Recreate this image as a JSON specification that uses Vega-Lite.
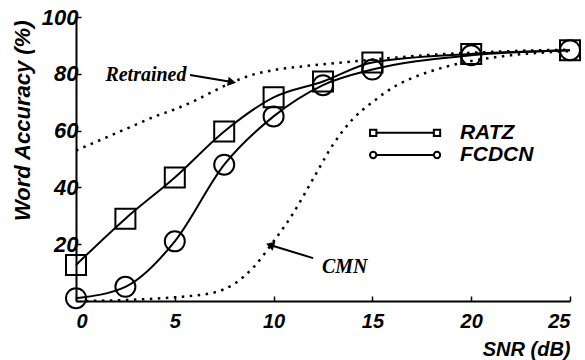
{
  "$schema": "https://vega.github.io/schema/vega-lite/v6.json",
  "width": 494,
  "height": 284,
  "autosize": {"type": "none"},
  "padding": {"left": 76, "top": 17, "right": 15, "bottom": 59},
  "background": "white",
  "config": {
    "view": {"stroke": null},
    "axis": {
      "grid": false,
      "domainColor": "black",
      "domainWidth": 2,
      "tickColor": "black",
      "tickWidth": 1.5,
      "tickSize": -5,
      "labelFont": "Liberation Sans",
      "labelFontWeight": "bold",
      "labelFontStyle": "italic",
      "labelFontSize": 20,
      "labelColor": "black",
      "titleFont": "Liberation Sans",
      "titleFontWeight": "bold",
      "titleFontStyle": "italic",
      "titleFontSize": 20,
      "titleColor": "black"
    }
  },
  "datasets": {
    "curves": [
      {"s": "RATZ", "x": 0, "y": 12.7},
      {"s": "RATZ", "x": 2.5, "y": 29},
      {"s": "RATZ", "x": 5, "y": 43.5},
      {"s": "RATZ", "x": 7.5, "y": 59.7},
      {"s": "RATZ", "x": 10, "y": 71.7},
      {"s": "RATZ", "x": 12.5, "y": 77.3},
      {"s": "RATZ", "x": 15, "y": 84},
      {"s": "RATZ", "x": 20, "y": 87},
      {"s": "RATZ", "x": 25, "y": 88.3},
      {"s": "FCDCN", "x": 0, "y": 1},
      {"s": "FCDCN", "x": 2.5, "y": 5},
      {"s": "FCDCN", "x": 5, "y": 21},
      {"s": "FCDCN", "x": 7.5, "y": 48},
      {"s": "FCDCN", "x": 10, "y": 65},
      {"s": "FCDCN", "x": 12.5, "y": 76},
      {"s": "FCDCN", "x": 15, "y": 81.5},
      {"s": "FCDCN", "x": 20, "y": 86.5},
      {"s": "FCDCN", "x": 25, "y": 88.3},
      {"s": "Retrained", "x": 0, "y": 53},
      {"s": "Retrained", "x": 1, "y": 56},
      {"s": "Retrained", "x": 2, "y": 59},
      {"s": "Retrained", "x": 3, "y": 62},
      {"s": "Retrained", "x": 4, "y": 65},
      {"s": "Retrained", "x": 5, "y": 67.5},
      {"s": "Retrained", "x": 6, "y": 70.5},
      {"s": "Retrained", "x": 7, "y": 74},
      {"s": "Retrained", "x": 8, "y": 77.3},
      {"s": "Retrained", "x": 9, "y": 79.8},
      {"s": "Retrained", "x": 10, "y": 81.3},
      {"s": "Retrained", "x": 12, "y": 83},
      {"s": "Retrained", "x": 14, "y": 84.3},
      {"s": "Retrained", "x": 16, "y": 85.6},
      {"s": "Retrained", "x": 18, "y": 86.7},
      {"s": "Retrained", "x": 20, "y": 87.4},
      {"s": "Retrained", "x": 22, "y": 88},
      {"s": "Retrained", "x": 25, "y": 88.5},
      {"s": "CMN", "x": 0.5, "y": 0},
      {"s": "CMN", "x": 3, "y": 0.5},
      {"s": "CMN", "x": 5, "y": 1.3},
      {"s": "CMN", "x": 7, "y": 3},
      {"s": "CMN", "x": 8, "y": 6},
      {"s": "CMN", "x": 9, "y": 12},
      {"s": "CMN", "x": 10, "y": 21},
      {"s": "CMN", "x": 11, "y": 31},
      {"s": "CMN", "x": 12, "y": 43},
      {"s": "CMN", "x": 13, "y": 55},
      {"s": "CMN", "x": 14, "y": 64},
      {"s": "CMN", "x": 15, "y": 70},
      {"s": "CMN", "x": 16, "y": 75},
      {"s": "CMN", "x": 17, "y": 78.5},
      {"s": "CMN", "x": 18, "y": 81},
      {"s": "CMN", "x": 19, "y": 83},
      {"s": "CMN", "x": 20, "y": 84.5},
      {"s": "CMN", "x": 22, "y": 86.5},
      {"s": "CMN", "x": 25, "y": 88}
    ],
    "legend": [
      {"s": "RATZ", "x": 15.04, "y": 59.2},
      {"s": "RATZ", "x": 18.27, "y": 59.2},
      {"s": "FCDCN", "x": 15.04, "y": 51.4},
      {"s": "FCDCN", "x": 18.27, "y": 51.4}
    ],
    "legendText": [
      {"label": "RATZ", "x": 19.43, "y": 59.2},
      {"label": "FCDCN", "x": 19.43, "y": 51.4}
    ],
    "notes": [
      {"label": "Retrained", "x": 3.54, "y": 79.6},
      {"label": "CMN", "x": 13.6, "y": 12.0}
    ],
    "arrows": [
      {"name": "Retrained", "x": 5.77, "y": 79.6, "x2": 7.89, "y2": 77.1},
      {"name": "CMN", "x": 12.0, "y": 15.1, "x2": 9.82, "y2": 19.7}
    ]
  },
  "layer": [
    {
      "data": {"name": "curves"},
      "transform": [{"filter": "datum.s == 'Retrained' || datum.s == 'CMN'"}],
      "mark": {"type": "line", "interpolate": "monotone", "color": "black", "strokeWidth": 2.5, "strokeDash": [2.5, 5.5]},
      "encoding": {
        "x": {"field": "x", "type": "quantitative", "scale": {"domain": [0, 25], "nice": false},
          "axis": {"values": [0, 5, 10, 15, 20, 25], "title": "SNR (dB)", "labelPadding": 15, "titleX": 494, "titleY": 54, "titleAlign": "right", "titleBaseline": "alphabetic", "titleAnchor": "end"}},
        "y": {"field": "y", "type": "quantitative", "scale": {"domain": [0, 100], "nice": false},
          "axis": {"values": [0, 20, 40, 60, 80, 100], "labelExpr": "datum.value == 0 ? '' : datum.label", "labelPadding": 3, "labelFontSize": 22, "title": "Word Accuracy (%)", "titleFontSize": 22, "titleAngle": -90, "titleX": -47, "titleY": 3, "titleAlign": "right", "titleBaseline": "alphabetic"}},
        "detail": {"field": "s"}
      }
    },
    {
      "data": {"name": "curves"},
      "transform": [{"filter": "datum.s == 'RATZ' || datum.s == 'FCDCN'"}],
      "mark": {"type": "line", "interpolate": "monotone", "color": "black", "strokeWidth": 2},
      "encoding": {
        "x": {"field": "x", "type": "quantitative"},
        "y": {"field": "y", "type": "quantitative"},
        "detail": {"field": "s"}
      }
    },
    {
      "data": {"name": "curves"},
      "transform": [{"filter": "datum.s == 'RATZ' || datum.s == 'FCDCN'"}],
      "mark": {"type": "point", "filled": false, "color": "black", "strokeWidth": 2, "size": 400, "opacity": 1},
      "encoding": {
        "x": {"field": "x", "type": "quantitative"},
        "y": {"field": "y", "type": "quantitative"},
        "shape": {"field": "s", "type": "nominal", "scale": {"domain": ["RATZ", "FCDCN"], "range": ["square", "circle"]}, "legend": null}
      }
    },
    {
      "data": {"name": "legend"},
      "mark": {"type": "line", "color": "black", "strokeWidth": 2},
      "encoding": {
        "x": {"field": "x", "type": "quantitative"},
        "y": {"field": "y", "type": "quantitative"},
        "detail": {"field": "s"}
      }
    },
    {
      "data": {"name": "legend"},
      "mark": {"type": "point", "filled": true, "fill": "white", "stroke": "black", "strokeWidth": 2, "size": 40, "opacity": 1},
      "encoding": {
        "x": {"field": "x", "type": "quantitative"},
        "y": {"field": "y", "type": "quantitative"},
        "shape": {"field": "s", "type": "nominal", "legend": null}
      }
    },
    {
      "data": {"name": "legendText"},
      "mark": {"type": "text", "align": "left", "baseline": "middle", "font": "Liberation Sans", "fontWeight": "bold", "fontStyle": "italic", "fontSize": 21, "color": "black"},
      "encoding": {
        "x": {"field": "x", "type": "quantitative"},
        "y": {"field": "y", "type": "quantitative"},
        "text": {"field": "label"}
      }
    },
    {
      "data": {"name": "notes"},
      "mark": {"type": "text", "align": "center", "baseline": "middle", "font": "Liberation Serif", "fontWeight": "bold", "fontStyle": "italic", "fontSize": 20, "color": "black"},
      "encoding": {
        "x": {"field": "x", "type": "quantitative"},
        "y": {"field": "y", "type": "quantitative"},
        "text": {"field": "label"}
      }
    },
    {
      "data": {"name": "arrows"},
      "mark": {"type": "rule", "color": "black", "strokeWidth": 2},
      "encoding": {
        "x": {"field": "x", "type": "quantitative"},
        "y": {"field": "y", "type": "quantitative"},
        "x2": {"field": "x2"},
        "y2": {"field": "y2"}
      }
    },
    {
      "data": {"name": "arrows"},
      "transform": [{"filter": "datum.name == 'Retrained'"}],
      "mark": {"type": "point", "shape": "triangle-right", "filled": true, "color": "black", "size": 90, "angle": 10, "opacity": 1},
      "encoding": {
        "x": {"field": "x2", "type": "quantitative"},
        "y": {"field": "y2", "type": "quantitative"}
      }
    },
    {
      "data": {"name": "arrows"},
      "transform": [{"filter": "datum.name == 'CMN'"}],
      "mark": {"type": "point", "shape": "triangle-right", "filled": true, "color": "black", "size": 90, "angle": 197, "opacity": 1},
      "encoding": {
        "x": {"field": "x2", "type": "quantitative"},
        "y": {"field": "y2", "type": "quantitative"}
      }
    }
  ]
}
